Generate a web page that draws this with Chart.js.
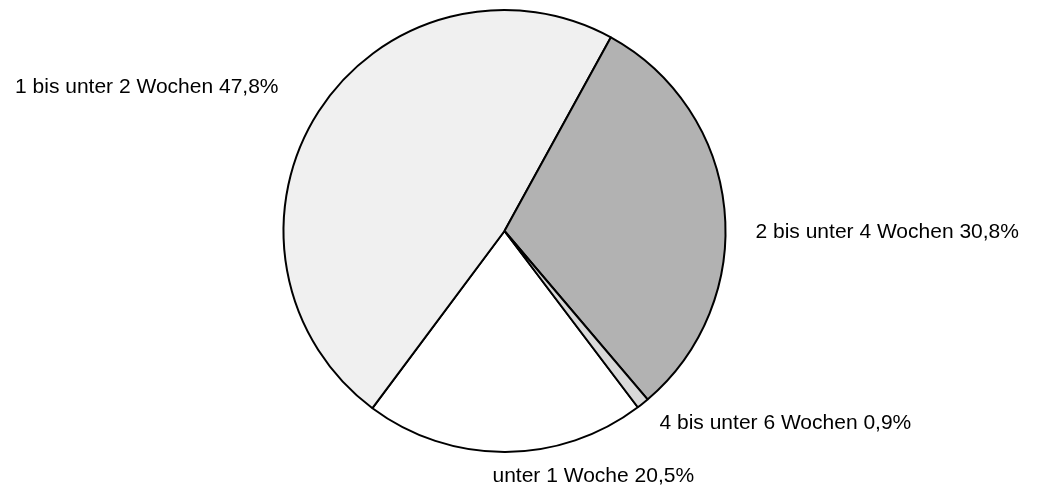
<!DOCTYPE html>
<html>
<head>
<meta charset="utf-8">
<script src="https://cdn.jsdelivr.net/npm/chart.js@4"></script>
<style>
  html, body { margin: 0; padding: 0; background: #fff; }
  #wrap { width: 1042px; height: 492px; position: relative; }
</style>
</head>
<body>
<div id="wrap"><canvas id="pieChart"></canvas></div>
<script>
// Data
const categories = ["unter 1 Woche", "1 bis unter 2 Wochen", "2 bis unter 4 Wochen", "4 bis unter 6 Wochen"];
const shares = [20.5, 47.8, 30.8, 0.9];
const sliceColors = ["#ffffff", "#f0f0f0", "#b2b2b2", "#d9d9d9"];

// label anchors relative to pie centre (dx, dy in px) and text alignment
const labelPlacement = [
  { dx: -12, dy: 251, align: "left" },
  { dx: -226, dy: -138, align: "right" },
  { dx: 251, dy: 7, align: "left" },
  { dx: 155, dy: 198, align: "left" }
];

const fmt = v => v.toFixed(1).replace(".", ",") + "%";

// ---------------- OUTSIDE LABELS ----------------
const outsideLabels = {
  id: "outsideLabels",
  afterDatasetsDraw(chart) {
    const ctx = chart.ctx;
    const arc = chart.getDatasetMeta(0).data[0];
    const cx = arc.x, cy = arc.y;
    ctx.save();
    ctx.font = "21px 'Liberation Sans', Arial, sans-serif";
    ctx.fillStyle = "#000";
    ctx.textBaseline = "alphabetic";
    categories.forEach((c, i) => {
      const p = labelPlacement[i];
      ctx.textAlign = p.align;
      ctx.fillText(c + " " + fmt(shares[i]), cx + p.dx, cy + p.dy);
    });
    ctx.restore();
  }
};

new Chart(document.getElementById("pieChart"), {
  type: "pie",
  data: {
    labels: categories,
    datasets: [{
      data: shares,
      backgroundColor: sliceColors,
      borderColor: "#000",
      borderWidth: 2
    }]
  },
  options: {
    responsive: true,
    maintainAspectRatio: false,
    animation: false,
    rotation: 142.9,
    layout: { padding: { left: 0, right: 33, top: 9, bottom: 39 } },
    plugins: {
      legend: { display: false },
      tooltip: { enabled: false }
    }
  },
  plugins: [outsideLabels]
});
</script>
</body>
</html>
